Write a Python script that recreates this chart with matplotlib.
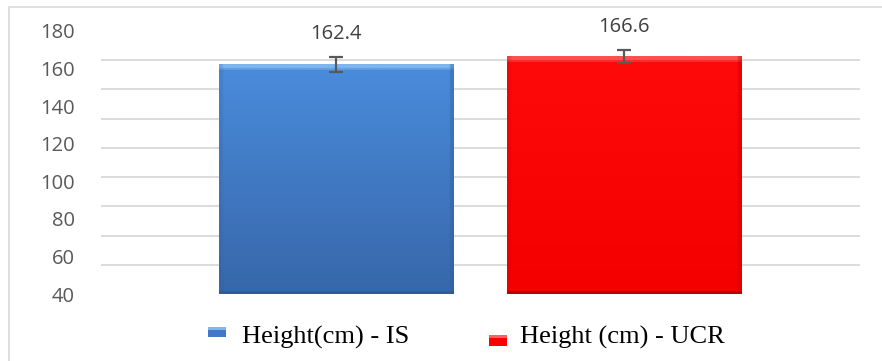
import numpy as np
import matplotlib
matplotlib.use("Agg")
import matplotlib.pyplot as plt
from matplotlib.patches import Rectangle
from matplotlib.colors import to_rgb

categories = ["Height(cm) - IS", "Height (cm) - UCR"]
values = [162.4, 166.6]
errors = [4.0, 3.5]
value_labels = ["162.4", "166.6"]
yticks = [40, 60, 80, 100, 120, 140, 160, 180]

W, H = 882, 361
fig = plt.figure(figsize=(W / 100, H / 100), dpi=100)
fig.patch.set_facecolor("white")

# outer chart border (extends past right/bottom like reference)
fig.patches.append(Rectangle((9 / W, -0.05), 1.0, 1 - 7 / H + 0.05, transform=fig.transFigure,
                             fill=False, edgecolor="#d9d9d9", linewidth=1.2))

ax = fig.add_axes([101 / W, 1 - 294 / H, (860 - 101) / W, (294 - 31) / H])
for s in ax.spines.values():
    s.set_visible(False)

# gridlines (10 evenly spaced lines as in reference)
ax.set_yticks(np.linspace(40, 180, 10), minor=True)
ax.grid(True, axis="y", which="minor", color="#d9d9d9", linewidth=1.3)
ax.set_axisbelow(True)
ax.set_yticks(yticks)
ax.set_yticklabels([str(t) for t in yticks], fontsize=14.5, color="#595959", family="Open Sans")
ax.tick_params(axis="y", which="both", length=0, pad=19)
ax.set_xticks([])

def bevel_image(top, bottom, hl, edge, n=240, m=120):
    top, bottom, hl, edge = map(lambda c: np.array(to_rgb(c)), (top, bottom, hl, edge))
    img = np.zeros((n, m, 3))
    for i in range(n):
        f = i / (n - 1)
        img[i, :, :] = top * (1 - f) + bottom * f
    img[:4, :, :] = hl
    img[4:6, :, :] = (hl + top) / 2
    img[:, :2, :] = img[:, :2, :] * 0.8 + edge * 0.2
    img[:, -2:, :] = img[:, -2:, :] * 0.6 + edge * 0.4
    img[-3:, :, :] = edge
    return img

styles = [
    dict(top="#4a8cdc", bottom="#3767aa", hl="#7fb6ee", edge="#2f5b96"),
    dict(top="#ff0a0a", bottom="#f50000", hl="#ff5050", edge="#b80000"),
]
width = 0.8125
x = np.arange(len(categories))
bars = ax.bar(x, [v - 40 for v in values], bottom=40, width=width, color="none", edgecolor="none")
for b, st in zip(bars, styles):
    img = bevel_image(**st)
    x0, y0 = b.get_x(), b.get_y()
    im = ax.imshow(img, extent=[x0, x0 + b.get_width(), y0, y0 + b.get_height()],
                   aspect="auto", origin="upper", zorder=2, interpolation="bilinear")
    im.set_clip_path(b)
ax.set_xlim(-0.816, 1.819)
ax.set_ylim(40, 180)

ax.errorbar(x, values, yerr=errors, fmt="none", ecolor="#595959", elinewidth=1.6,
            capsize=5, capthick=1.6, zorder=3)

for xi, v, e, lab in zip(x, values, errors, value_labels):
    ax.annotate(lab, (xi, v + e), xytext=(0, 16), textcoords="offset points",
                ha="center", va="center", fontsize=14.5, color="#404040", family="Open Sans")

# legend
leg_items = [
    dict(mx=208, my0=327, my1=337, tx=242, color="#4179c8", hl="#7fb6ee"),
    dict(mx=489, my0=335, my1=346, tx=520, color="#ff0000", hl="#ff6060"),
]
for cat, li in zip(categories, leg_items):
    fig.patches.append(Rectangle((li["mx"] / W, 1 - li["my1"] / H), 18 / W, (li["my1"] - li["my0"]) / H,
                                 transform=fig.transFigure, facecolor=li["color"], edgecolor="none"))
    fig.patches.append(Rectangle((li["mx"] / W, 1 - (li["my0"] + 3) / H), 18 / W, 3 / H,
                                 transform=fig.transFigure, facecolor=li["hl"], edgecolor="none"))
    fig.text(li["tx"] / W, 1 - 344 / H, cat, fontsize=19, family="Liberation Serif",
             color="black", va="baseline", ha="left")

fig.savefig("out.png", dpi=100)
